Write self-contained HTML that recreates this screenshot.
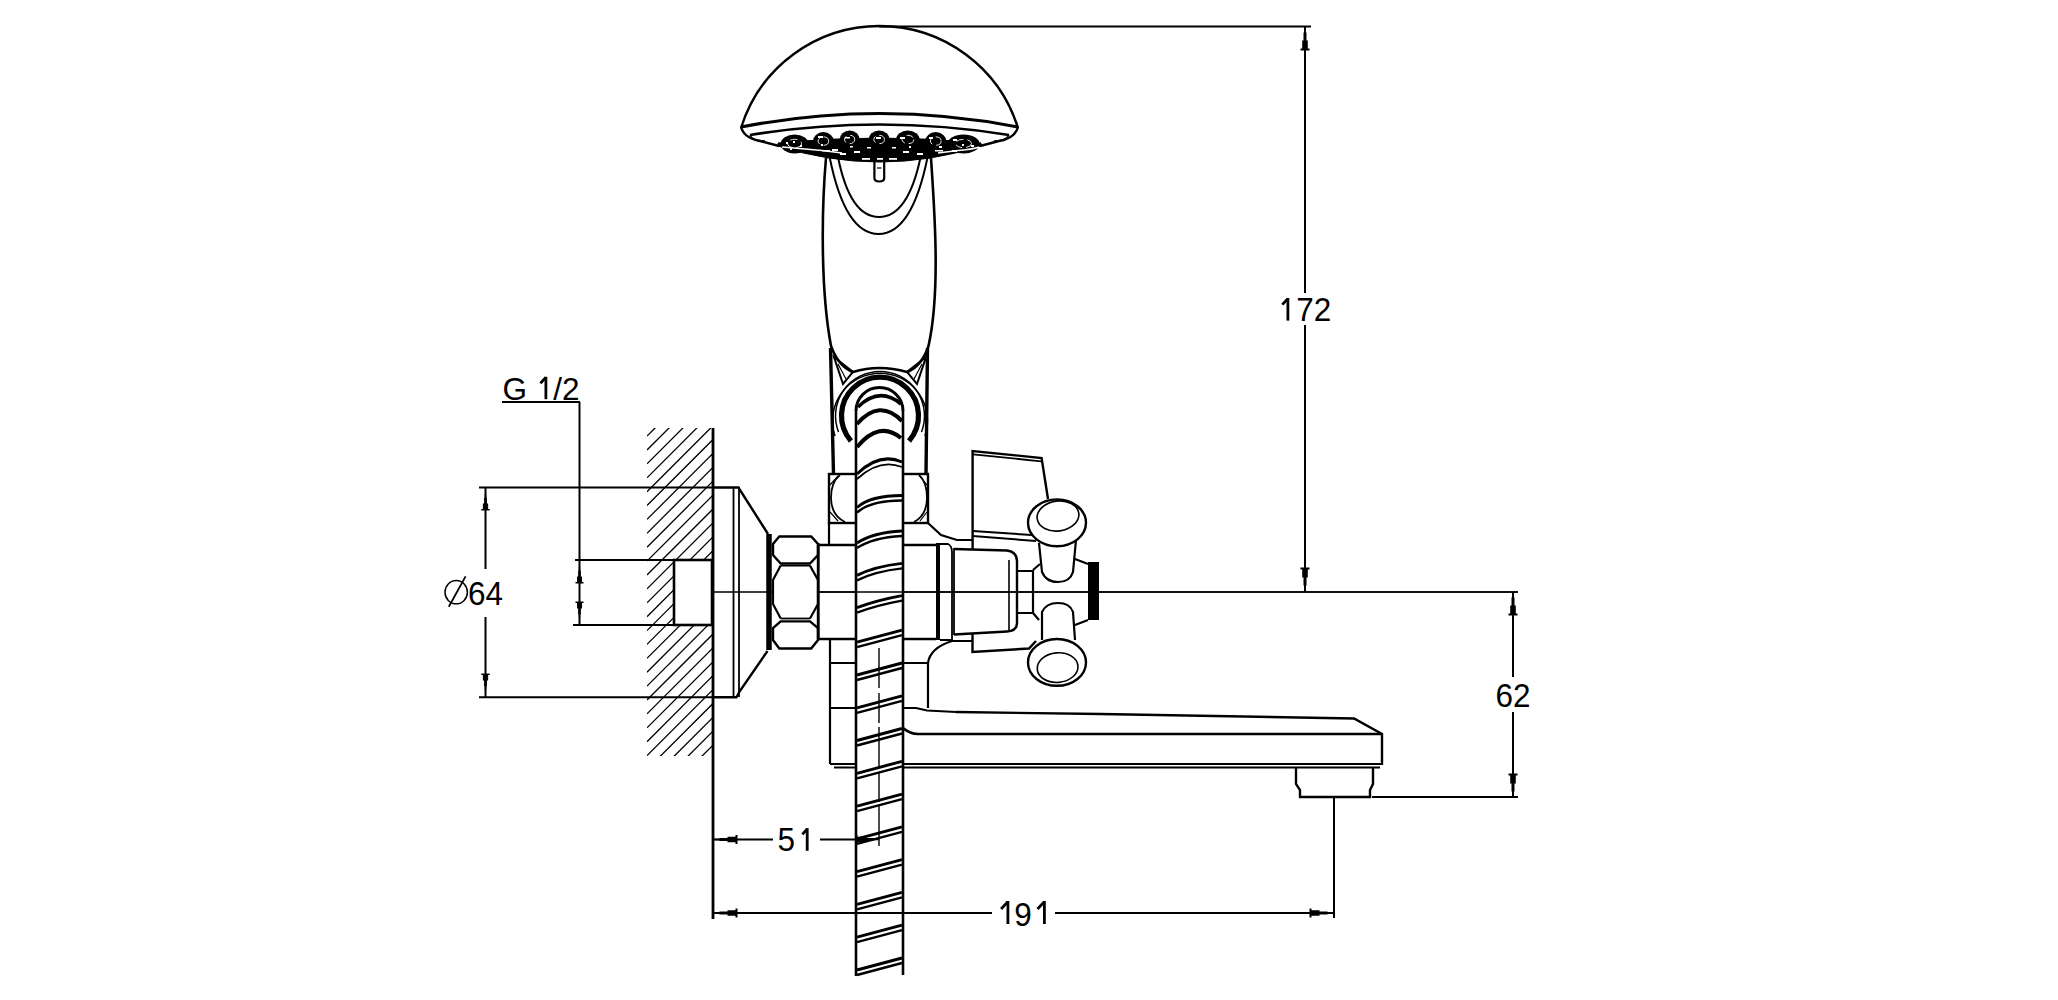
<!DOCTYPE html>
<html><head><meta charset="utf-8"><style>
html,body{margin:0;padding:0;background:#fff;width:2058px;height:1000px;overflow:hidden}
svg{display:block}
text{font-family:"Liberation Sans",sans-serif}
</style></head><body><svg width="2058" height="1000" viewBox="0 0 2058 1000" stroke="#000" fill="none" stroke-linecap="butt" font-family="Liberation Sans, sans-serif"><line x1="879" y1="26.5" x2="1311" y2="26.5" stroke-width="2.2"/><line x1="1305" y1="27" x2="1305" y2="293" stroke-width="2"/><line x1="1305" y1="325" x2="1305" y2="592" stroke-width="2"/><polygon points="1305.8,27.0 1305.8,32.5 1306.5,32.5 1306.5,40.5 1307.8,40.5 1307.8,48.5 1309.5,48.5 1309.5,50.5 1300.5,50.5 1300.5,48.5 1302.2,48.5 1302.2,40.5 1303.5,40.5 1303.5,32.5 1304.2,32.5 1304.2,27.0" fill="#000" stroke-width="0"/><polygon points="1305.8,591.0 1305.8,585.5 1306.5,585.5 1306.5,577.5 1307.8,577.5 1307.8,569.5 1309.5,569.5 1309.5,567.5 1300.5,567.5 1300.5,569.5 1302.2,569.5 1302.2,577.5 1303.5,577.5 1303.5,585.5 1304.2,585.5 1304.2,591.0" fill="#000" stroke-width="0"/><text x="0" y="0" transform="translate(1305 321.3) scale(1 1.08)" font-size="31.5" text-anchor="middle" stroke="none" fill="#000"><tspan fill="transparent">1</tspan>72</text><rect x="1286.50" y="298.00" width="2.8" height="22.60" fill="#000" stroke="none"/><path d="M1287.90,298.60 L1282.30,304.60" stroke-width="2.8" fill="none"/><line x1="712" y1="592" x2="772" y2="592" stroke-width="1.6"/><line x1="818" y1="592" x2="1518" y2="592" stroke-width="1.6"/><line x1="1513" y1="593" x2="1513" y2="677" stroke-width="2"/><line x1="1513" y1="712" x2="1513" y2="797" stroke-width="2"/><polygon points="1513.8,592.0 1513.8,597.5 1514.5,597.5 1514.5,605.5 1515.8,605.5 1515.8,613.5 1517.5,613.5 1517.5,615.5 1508.5,615.5 1508.5,613.5 1510.2,613.5 1510.2,605.5 1511.5,605.5 1511.5,597.5 1512.2,597.5 1512.2,592.0" fill="#000" stroke-width="0"/><polygon points="1513.8,797.0 1513.8,791.5 1514.5,791.5 1514.5,783.5 1515.8,783.5 1515.8,775.5 1517.5,775.5 1517.5,773.5 1508.5,773.5 1508.5,775.5 1510.2,775.5 1510.2,783.5 1511.5,783.5 1511.5,791.5 1512.2,791.5 1512.2,797.0" fill="#000" stroke-width="0"/><text x="0" y="0" transform="translate(1513 707) scale(1 1.08)" font-size="31.5" text-anchor="middle" stroke="none" fill="#000">62</text><line x1="1372" y1="797" x2="1518" y2="797" stroke-width="1.8"/><line x1="1334" y1="797" x2="1334" y2="918" stroke-width="2"/><line x1="713" y1="913" x2="992" y2="913" stroke-width="2"/><line x1="1055" y1="913" x2="1334" y2="913" stroke-width="2"/><polygon points="714.0,913.8 719.5,913.8 719.5,914.5 727.5,914.5 727.5,915.8 735.5,915.8 735.5,917.5 737.5,917.5 737.5,908.5 735.5,908.5 735.5,910.2 727.5,910.2 727.5,911.5 719.5,911.5 719.5,912.2 714.0,912.2" fill="#000" stroke-width="0"/><polygon points="1333.0,913.8 1327.5,913.8 1327.5,914.5 1319.5,914.5 1319.5,915.8 1311.5,915.8 1311.5,917.5 1309.5,917.5 1309.5,908.5 1311.5,908.5 1311.5,910.2 1319.5,910.2 1319.5,911.5 1327.5,911.5 1327.5,912.2 1333.0,912.2" fill="#000" stroke-width="0"/><text x="0" y="0" transform="translate(1023 925.5) scale(1 1.08)" font-size="31.5" text-anchor="middle" stroke="none" fill="#000"><tspan fill="transparent">1</tspan>9<tspan fill="transparent">1</tspan></text><rect x="1006.50" y="901.00" width="2.8" height="23.00" fill="#000" stroke="none"/><path d="M1007.90,901.60 L1001.10,909.00" stroke-width="2.8" fill="none"/><rect x="1043.00" y="901.00" width="2.8" height="23.00" fill="#000" stroke="none"/><path d="M1044.40,901.60 L1037.50,909.00" stroke-width="2.8" fill="none"/><line x1="713" y1="839.5" x2="773" y2="839.5" stroke-width="2"/><line x1="820" y1="839.5" x2="858" y2="839.5" stroke-width="2"/><polygon points="714.0,840.3 719.5,840.3 719.5,841.0 727.5,841.0 727.5,842.3 735.5,842.3 735.5,844.0 737.5,844.0 737.5,835.0 735.5,835.0 735.5,836.7 727.5,836.7 727.5,838.0 719.5,838.0 719.5,838.7 714.0,838.7" fill="#000" stroke-width="0"/><text x="0" y="0" transform="translate(795 851.3) scale(1 1.08)" font-size="31.5" text-anchor="middle" stroke="none" fill="#000">5<tspan fill="transparent">1</tspan></text><rect x="805.80" y="828.20" width="2.8" height="22.60" fill="#000" stroke="none"/><path d="M807.20,828.80 L802.40,834.40" stroke-width="2.8" fill="none"/><line x1="713" y1="428" x2="713" y2="919" stroke-width="2.8"/><clipPath id="hc"><path d="M647,428 H712 V560 H674 V625 H712 V756 H647 Z"/></clipPath><g clip-path="url(#hc)"><line x1="647" y1="352.8" x2="727" y2="272.8" stroke-width="1.3"/><line x1="647" y1="366.6" x2="727" y2="286.6" stroke-width="1.3"/><line x1="647" y1="380.5" x2="727" y2="300.5" stroke-width="1.3"/><line x1="647" y1="394.4" x2="727" y2="314.4" stroke-width="1.3"/><line x1="647" y1="408.3" x2="727" y2="328.3" stroke-width="1.3"/><line x1="647" y1="422.2" x2="727" y2="342.2" stroke-width="1.3"/><line x1="647" y1="436.1" x2="727" y2="356.1" stroke-width="1.3"/><line x1="647" y1="450.0" x2="727" y2="370.0" stroke-width="1.3"/><line x1="647" y1="463.9" x2="727" y2="383.9" stroke-width="1.3"/><line x1="647" y1="477.8" x2="727" y2="397.8" stroke-width="1.3"/><line x1="647" y1="491.7" x2="727" y2="411.7" stroke-width="1.3"/><line x1="647" y1="505.5" x2="727" y2="425.5" stroke-width="1.3"/><line x1="647" y1="519.4" x2="727" y2="439.4" stroke-width="1.3"/><line x1="647" y1="533.3" x2="727" y2="453.3" stroke-width="1.3"/><line x1="647" y1="547.2" x2="727" y2="467.2" stroke-width="1.3"/><line x1="647" y1="561.1" x2="727" y2="481.1" stroke-width="1.3"/><line x1="647" y1="575.0" x2="727" y2="495.0" stroke-width="1.3"/><line x1="647" y1="588.9" x2="727" y2="508.9" stroke-width="1.3"/><line x1="647" y1="602.8" x2="727" y2="522.8" stroke-width="1.3"/><line x1="647" y1="616.7" x2="727" y2="536.7" stroke-width="1.3"/><line x1="647" y1="630.6" x2="727" y2="550.6" stroke-width="1.3"/><line x1="647" y1="644.4" x2="727" y2="564.4" stroke-width="1.3"/><line x1="647" y1="658.3" x2="727" y2="578.3" stroke-width="1.3"/><line x1="647" y1="672.2" x2="727" y2="592.2" stroke-width="1.3"/><line x1="647" y1="686.1" x2="727" y2="606.1" stroke-width="1.3"/><line x1="647" y1="700.0" x2="727" y2="620.0" stroke-width="1.3"/><line x1="647" y1="713.9" x2="727" y2="633.9" stroke-width="1.3"/><line x1="647" y1="727.8" x2="727" y2="647.8" stroke-width="1.3"/><line x1="647" y1="741.7" x2="727" y2="661.7" stroke-width="1.3"/><line x1="647" y1="755.6" x2="727" y2="675.6" stroke-width="1.3"/><line x1="647" y1="769.5" x2="727" y2="689.5" stroke-width="1.3"/><line x1="647" y1="783.3" x2="727" y2="703.3" stroke-width="1.3"/><line x1="647" y1="797.2" x2="727" y2="717.2" stroke-width="1.3"/><line x1="647" y1="811.1" x2="727" y2="731.1" stroke-width="1.3"/><line x1="647" y1="825.0" x2="727" y2="745.0" stroke-width="1.3"/></g><line x1="479" y1="487.5" x2="712" y2="487.5" stroke-width="2"/><line x1="479" y1="697.3" x2="712" y2="697.3" stroke-width="2"/><line x1="485.5" y1="487" x2="485.5" y2="569" stroke-width="2"/><line x1="485.5" y1="617" x2="485.5" y2="697" stroke-width="2"/><polygon points="486.26,494.0 486.26,497.86 486.92,497.86 486.92,503.48 488.14,503.48 488.14,509.1 489.75,509.1 489.75,510.5 481.25,510.5 481.25,509.1 482.86,509.1 482.86,503.48 484.08,503.48 484.08,497.86 484.74,497.86 484.74,494.0" fill="#000" stroke-width="0"/><polygon points="486.26,690.0 486.26,686.14 486.92,686.14 486.92,680.52 488.14,680.52 488.14,674.9 489.75,674.9 489.75,673.5 481.25,673.5 481.25,674.9 482.86,674.9 482.86,680.52 484.08,680.52 484.08,686.14 484.74,686.14 484.74,690.0" fill="#000" stroke-width="0"/><text x="0" y="0" transform="translate(467.9 605.3) scale(1 1.08)" font-size="31.5" text-anchor="start" stroke="none" fill="#000">64</text><ellipse cx="456.2" cy="592.2" rx="11.2" ry="11.6" stroke-width="1.5" fill="none" transform="rotate(0 456.2 592.2)"/><path d="M448.8,606.8 L465.6,576.4" stroke-width="1.8" fill="none" /><text x="0" y="0" transform="translate(541 400) scale(1 1.0)" font-size="31.5" text-anchor="middle" stroke="none" fill="#000">G <tspan fill="transparent">1</tspan>/2</text><rect x="544.50" y="376.80" width="2.8" height="22.40" fill="#000" stroke="none"/><path d="M545.90,377.40 L540.40,383.20" stroke-width="2.8" fill="none"/><line x1="502" y1="402" x2="580" y2="402" stroke-width="2"/><line x1="579.5" y1="402" x2="579.5" y2="625" stroke-width="2"/><line x1="575" y1="560" x2="674" y2="560" stroke-width="2"/><line x1="573" y1="625" x2="674" y2="625" stroke-width="2"/><polygon points="580.21,567.0 580.21,570.86 580.83,570.86 580.83,576.48 581.99,576.48 581.99,582.1 583.5,582.1 583.5,583.5 575.5,583.5 575.5,582.1 577.01,582.1 577.01,576.48 578.17,576.48 578.17,570.86 578.79,570.86 578.79,567.0" fill="#000" stroke-width="0"/><polygon points="580.21,618.0 580.21,614.14 580.83,614.14 580.83,608.52 581.99,608.52 581.99,602.9 583.5,602.9 583.5,601.5 575.5,601.5 575.5,602.9 577.01,602.9 577.01,608.52 578.17,608.52 578.17,614.14 578.79,614.14 578.79,618.0" fill="#000" stroke-width="0"/><rect x="674" y="560" width="38" height="65" stroke-width="2.6" fill="none"/><path d="M712,487.5 H738.5 L740,490 L768,534 M767.5,651 L739.5,691.5 L736.5,697.3 H712" stroke-width="2.4" fill="none" /><line x1="733.5" y1="487" x2="733.5" y2="697" stroke-width="1.8"/><line x1="739" y1="487" x2="739" y2="697" stroke-width="1.8"/><line x1="769" y1="534" x2="769" y2="650" stroke-width="5.5"/><path d="M779.3,536.5 L773,544 V555 L780.7,563.5 H810 L818,555 V544 L811.2,536.5 Z" stroke-width="2.4" fill="none" /><path d="M780.7,565.6 L773,580 V604 L780.7,618.5 M810,565.6 L818,580 V604 L810,618.5" stroke-width="2.2" fill="none" /><path d="M780.7,621.4 L773,628 V640 L779.3,648.5 H811.2 L818,640 V628 L810,621.4 Z" stroke-width="2.4" fill="none" /><line x1="780.7" y1="565.6" x2="810" y2="565.6" stroke-width="1.8"/><line x1="780.7" y1="618.5" x2="810" y2="618.5" stroke-width="1.8"/><line x1="818.5" y1="543" x2="818.5" y2="640" stroke-width="2.2"/><path d="M818,545 H936 M818,639 H936 M818,545 V639" stroke-width="2.4" fill="none" /><rect x="829" y="474" width="99" height="49" stroke-width="2.4" fill="none"/><path d="M829,523 V545 M928,523 L941,535 L957,540 H973" stroke-width="2.2" fill="none" /><path d="M840,475 Q831,482 831,498 Q831,515 845,522 M919,475 Q927,482 927,498 Q927,515 914,522" stroke-width="1.8" fill="none" /><path d="M830,485 L838,476 M830,512 L838,521 M927,485 L920,476 M927,512 L920,521" stroke-width="1.2" fill="none" /><path d="M830,639 V764 M830,663 H928 M830,708 H916 L927,710.5 L956,712" stroke-width="2.2" fill="none" /><path d="M928,708 V663 Q930,648 952,641 H972" stroke-width="2.2" fill="none" /><path d="M956,712 L1100,714 L1354,718.5 L1382,734 V765" stroke-width="2.4" fill="none" /><path d="M903,728 Q910,734 918,734 H1382" stroke-width="2.4" fill="none" /><line x1="830" y1="764" x2="1382" y2="764" stroke-width="2.2"/><line x1="834" y1="767.5" x2="1380" y2="767.5" stroke-width="2.2"/><path d="M1296,768 V784 L1300,790 V797 H1370 V790 L1373,784 V768" stroke-width="2.4" fill="none" /><rect x="936" y="543" width="4" height="97" stroke-width="0" fill="#000"/><path d="M940,544 H948 Q952,546 952,552 V640 H940" stroke-width="1.8" fill="none" /><line x1="954" y1="548" x2="954" y2="635" stroke-width="1.8"/><path d="M954,549 L1007,550.5 Q1017,552 1017,561 V623 Q1017,631 1007,631.5 L954,634.5" stroke-width="2.4" fill="none" /><line x1="1009" y1="560" x2="1009" y2="630" stroke-width="1.6"/><path d="M1017,571 H1033 V613 H1017" stroke-width="2.2" fill="none" /><path d="M1033,570 L1040,564 M1033,613 L1039,620 M1075,559 L1088,564 M1075,625 L1088,620" stroke-width="2.2" fill="none" /><rect x="1088" y="562" width="11" height="58" stroke-width="0" fill="#000"/><path d="M1039,543 L1042,572 Q1046,582 1058,582 Q1070,582 1073,572 L1076,540" stroke-width="2.2" fill="none" /><path d="M1042,640 L1042,612 Q1046,603 1058,603 Q1070,603 1073,612 L1075,640" stroke-width="2.2" fill="none" /><ellipse cx="1057" cy="522.8" rx="29" ry="23.4" stroke-width="2.4" fill="none" transform="rotate(0 1057 522.8)"/><ellipse cx="1058" cy="516" rx="21" ry="15" stroke-width="1.6" fill="none" transform="rotate(-8 1058 516)"/><ellipse cx="1057" cy="662.4" rx="29" ry="23.4" stroke-width="2.4" fill="none" transform="rotate(0 1057 662.4)"/><ellipse cx="1057.6" cy="667.6" rx="20.4" ry="14.8" stroke-width="1.6" fill="none" transform="rotate(-5 1057.6 667.6)"/><path d="M972.6,549 V451 L1041.6,458 L1048,499" stroke-width="2.4" fill="none" /><path d="M973,454.3 L1041,461.3" stroke-width="1.8" fill="none" /><path d="M972.6,531 L1032,535 M972.6,536 L1036,541" stroke-width="2" fill="none" /><path d="M972.5,634 V652 L1029,648.5 L1036,641" stroke-width="2.4" fill="none" /><path d="M830.5,348 L833.5,474" stroke-width="3.4" fill="none" /><path d="M927.5,348 L926,474" stroke-width="3.4" fill="none" /><path d="M838.5,432 A44.5,44.5 0 1 1 921.5,432" stroke-width="1.5" fill="none" /><path d="M835,436 A47.5,47.5 0 1 1 925,436" stroke-width="1.5" fill="none" /><path d="M851,441 A38.5,38.5 0 1 1 909,441" stroke-width="5.2" fill="none" /><polygon points="836,360 853,373 845,383" fill="#fff" stroke-width="0"/><path d="M834,357 L853,372 L843,384 Z" stroke-width="2" fill="none" /><path d="M838,364 L846,379" stroke-width="1.2" fill="none" /><path d="M926,357 L907,372 L917,384 Z" stroke-width="2" fill="none" /><path d="M922,364 L914,379" stroke-width="1.2" fill="none" /><path d="M826,158 C821.5,210 820.5,290 831,346 Q838,366 853,372 Q866,368 879.5,368 Q893,368 907,372 Q922,366 928.5,346 C941,290 934,205 931,158" stroke-width="2.6" fill="none" /><path d="M829.6,157 Q845,234 878.6,234 Q912,234 927.6,157" stroke-width="2" fill="none" /><path d="M838,157 Q850,217 879,217 Q908,217 920.6,157" stroke-width="2" fill="none" /><path d="M874.4,162 V178 Q874.4,181.5 879.3,181.5 Q884.2,181.5 884.2,178 V162" stroke-width="2.2" fill="none" /><line x1="877" y1="168" x2="881.5" y2="168" stroke-width="1.2"/><path d="M856,976 V411 A23.5,23.5 0 0 1 903,411 V976 Z" stroke-width="0" fill="#fff" /><line x1="856" y1="411" x2="856" y2="976" stroke-width="2.6"/><line x1="903" y1="411" x2="903" y2="975" stroke-width="2.6"/><path d="M856,411 A23.5,23.5 0 0 1 903,411" stroke-width="3" fill="none" /><path d="M858,407 Q879.5,386 901,404" stroke-width="3.6" fill="none" /><path d="M857,424 Q879.5,398 902,421" stroke-width="4" fill="none" /><path d="M857,447 Q879.5,420 901,438" stroke-width="4.2" fill="none" /><path d="M857,474 Q879.5,452 902,462" stroke-width="3" fill="none" /><path d="M857,479 Q879.5,458 902,467" stroke-width="1.8" fill="none" /><path d="M857,507.5 Q870.5,495.5 902,495.5" stroke-width="2.9" fill="none" /><path d="M857,512.5 Q870.5,500.5 902,500.5" stroke-width="2.4" fill="none" /><path d="M857,543.0 Q872.8,532.5 902,531.0" stroke-width="2.9" fill="none" /><path d="M857,548.0 Q872.8,537.5 902,536.0" stroke-width="2.4" fill="none" /><path d="M857,575.4 Q875.0,566.4 902,563.4" stroke-width="2.9" fill="none" /><path d="M857,580.4 Q875.0,571.4 902,568.4" stroke-width="2.4" fill="none" /><path d="M857,607.6 Q877.2,600.1 902,595.6" stroke-width="2.9" fill="none" /><path d="M857,612.6 Q877.2,605.1 902,600.6" stroke-width="2.4" fill="none" /><path d="M857,642.2 Q879.5,636.2 902,630.2" stroke-width="2.9" fill="none" /><path d="M857,647.2 Q879.5,641.2 902,635.2" stroke-width="2.4" fill="none" /><path d="M857,675.0 Q879.5,669.0 902,663.0" stroke-width="2.9" fill="none" /><path d="M857,680.0 Q879.5,674.0 902,668.0" stroke-width="2.4" fill="none" /><path d="M857,707.8 Q879.5,701.8 902,695.8" stroke-width="2.9" fill="none" /><path d="M857,712.8 Q879.5,706.8 902,700.8" stroke-width="2.4" fill="none" /><path d="M857,740.5 Q879.5,734.5 902,728.5" stroke-width="2.9" fill="none" /><path d="M857,745.5 Q879.5,739.5 902,733.5" stroke-width="2.4" fill="none" /><path d="M857,773.3 Q879.5,767.3 902,761.3" stroke-width="2.9" fill="none" /><path d="M857,778.3 Q879.5,772.3 902,766.3" stroke-width="2.4" fill="none" /><path d="M857,806.1 Q879.5,800.1 902,794.1" stroke-width="2.9" fill="none" /><path d="M857,811.1 Q879.5,805.1 902,799.1" stroke-width="2.4" fill="none" /><path d="M857,838.9 Q879.5,832.9 902,826.9" stroke-width="2.9" fill="none" /><path d="M857,843.9 Q879.5,837.9 902,831.9" stroke-width="2.4" fill="none" /><path d="M857,871.7 Q879.5,865.7 902,859.7" stroke-width="2.9" fill="none" /><path d="M857,876.7 Q879.5,870.7 902,864.7" stroke-width="2.4" fill="none" /><path d="M857,904.4 Q879.5,898.4 902,892.4" stroke-width="2.9" fill="none" /><path d="M857,909.4 Q879.5,903.4 902,897.4" stroke-width="2.4" fill="none" /><path d="M857,937.2 Q879.5,931.2 902,925.2" stroke-width="2.9" fill="none" /><path d="M857,942.2 Q879.5,936.2 902,930.2" stroke-width="2.4" fill="none" /><path d="M857,970.0 Q879.5,964.0 902,958.0" stroke-width="2.9" fill="none" /><path d="M857,975.0 Q879.5,969.0 902,963.0" stroke-width="2.4" fill="none" /><path d="M879,648 V846" stroke-width="1.4" fill="none" stroke-dasharray="40 5 30 4"/><line x1="818" y1="592" x2="1518" y2="592" stroke-width="1.6"/><line x1="713" y1="913" x2="992" y2="913" stroke-width="2"/><polygon points="879.0,840.3 873.5,840.3 873.5,841.0 865.5,841.0 865.5,842.3 857.5,842.3 857.5,844.0 855.5,844.0 855.5,835.0 857.5,835.0 857.5,836.7 865.5,836.7 865.5,838.0 873.5,838.0 873.5,838.7 879.0,838.7" fill="#000" stroke-width="0"/><path d="M741,128 A145,145 0 0 1 1018,128" stroke-width="2.4" fill="none" /><path d="M741,127 Q879.5,100 1018,127" stroke-width="3" fill="none" /><path d="M750,135 Q879.5,114 1009,135" stroke-width="2.6" fill="none" /><path d="M741,127 Q744,138 760,141 L779,146 M1018,127 Q1015,138 999,141 L980,146" stroke-width="2.4" fill="none" /><path d="M750,135 Q752,141 765,141 M1009,135 Q1006,141 994,141" stroke-width="1.4" fill="none" /><path d="M778,146 Q879.5,178 981,146 L981,143 Q879.5,133 778,143 Z" stroke-width="1" fill="#000" /><ellipse cx="794.6" cy="144" rx="13.899999999999977" ry="9.5" stroke-width="0" fill="#000" transform="rotate(0 794.6 144)"/><ellipse cx="794.6" cy="143.5" rx="6.9" ry="4.2" stroke="#fff" stroke-width="0.9" fill="none" stroke-dasharray="7 4"/><ellipse cx="823.4" cy="141.6" rx="10.600000000000023" ry="9.5" stroke-width="0" fill="#000" transform="rotate(0 823.4 141.6)"/><ellipse cx="823.4" cy="141.1" rx="5.3" ry="4.2" stroke="#fff" stroke-width="0.9" fill="none" stroke-dasharray="7 4"/><ellipse cx="849.65" cy="140" rx="10.149999999999977" ry="9.5" stroke-width="0" fill="#000" transform="rotate(0 849.65 140)"/><ellipse cx="849.6" cy="139.5" rx="5.1" ry="4.2" stroke="#fff" stroke-width="0.9" fill="none" stroke-dasharray="7 4"/><ellipse cx="879.0999999999999" cy="140" rx="10.699999999999989" ry="9.5" stroke-width="0" fill="#000" transform="rotate(0 879.0999999999999 140)"/><ellipse cx="879.1" cy="139.5" rx="5.3" ry="4.2" stroke="#fff" stroke-width="0.9" fill="none" stroke-dasharray="7 4"/><ellipse cx="907.85" cy="140" rx="11.850000000000023" ry="9.5" stroke-width="0" fill="#000" transform="rotate(0 907.85 140)"/><ellipse cx="907.9" cy="139.5" rx="5.9" ry="4.2" stroke="#fff" stroke-width="0.9" fill="none" stroke-dasharray="7 4"/><ellipse cx="935.75" cy="141.6" rx="10.75" ry="9.5" stroke-width="0" fill="#000" transform="rotate(0 935.75 141.6)"/><ellipse cx="935.8" cy="141.1" rx="5.4" ry="4.2" stroke="#fff" stroke-width="0.9" fill="none" stroke-dasharray="7 4"/><ellipse cx="963.55" cy="144" rx="16.05000000000001" ry="9.5" stroke-width="0" fill="#000" transform="rotate(0 963.55 144)"/><ellipse cx="963.5" cy="143.5" rx="8.0" ry="4.2" stroke="#fff" stroke-width="0.9" fill="none" stroke-dasharray="7 4"/><path d="M782,147 Q805,149 822,150.5 L842,153 M938,153 L958,150.5 Q975,149 979,147" stroke="#fff" stroke-width="1.6" fill="none"/><rect x="786" y="142" width="2" height="2" fill="#fff" stroke="none"/><rect x="793" y="141" width="2" height="2" fill="#fff" stroke="none"/><rect x="800" y="145" width="2" height="2" fill="#fff" stroke="none"/><rect x="790" y="148" width="2" height="2" fill="#fff" stroke="none"/><rect x="818" y="136" width="5" height="2" fill="#fff" stroke="none"/><rect x="821" y="144" width="2" height="2" fill="#fff" stroke="none"/><rect x="832" y="149" width="6" height="2" fill="#fff" stroke="none"/><rect x="845" y="137" width="5" height="1.5" fill="#fff" stroke="none"/><rect x="850" y="146" width="3" height="1.5" fill="#fff" stroke="none"/><rect x="867" y="147" width="4" height="1.5" fill="#fff" stroke="none"/><rect x="876" y="137" width="5" height="2" fill="#fff" stroke="none"/><rect x="892" y="147" width="4" height="1.5" fill="#fff" stroke="none"/><rect x="900" y="137" width="5" height="2" fill="#fff" stroke="none"/><rect x="909" y="146" width="2" height="2" fill="#fff" stroke="none"/><rect x="929" y="137" width="4" height="2" fill="#fff" stroke="none"/><rect x="939" y="146" width="3" height="2" fill="#fff" stroke="none"/><rect x="953" y="139" width="4" height="2" fill="#fff" stroke="none"/><rect x="962" y="144" width="2" height="2" fill="#fff" stroke="none"/><rect x="971" y="145" width="3" height="2" fill="#fff" stroke="none"/><rect x="952" y="150" width="5" height="2" fill="#fff" stroke="none"/><rect x="840" y="153" width="6" height="2" fill="#fff" stroke="none"/><rect x="854" y="151" width="6" height="2" fill="#fff" stroke="none"/><rect x="903" y="151" width="6" height="2" fill="#fff" stroke="none"/><rect x="917" y="153" width="6" height="2" fill="#fff" stroke="none"/><rect x="862" y="158" width="8" height="1.8" fill="#fff" stroke="none"/><rect x="877" y="158" width="6" height="1.8" fill="#fff" stroke="none"/><rect x="889" y="158" width="8" height="1.8" fill="#fff" stroke="none"/><rect x="822" y="150" width="8" height="1.5" fill="#fff" stroke="none"/><rect x="935" y="150" width="8" height="1.5" fill="#fff" stroke="none"/></svg></body></html>
